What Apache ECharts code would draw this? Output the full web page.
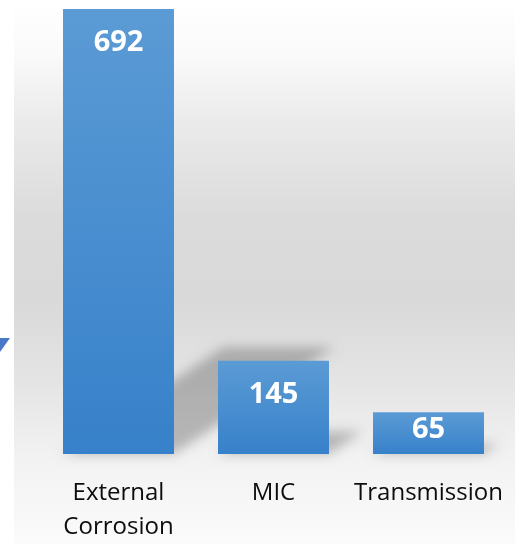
<!DOCTYPE html>
<html>
<head>
<meta charset="utf-8">
<script src="https://cdn.jsdelivr.net/npm/echarts@6/dist/echarts.min.js"></script>
<style>
  html, body { margin: 0; padding: 0; background: #ffffff; }
  #chart { width: 515px; height: 544px; }
</style>
</head>
<body>
<div id="chart"></div>
<script>
// Failure counts by cause
const categories = ['External\nCorrosion', 'MIC', 'Transmission'];
const counts = [692, 145, 65];

const FONT = '"Open Sans", "Noto Sans", sans-serif';
const BAR_RATIO = 0.716;   // bar width as a share of the category band
const SHADOW_SCALE = 0.24; // perspective shadow height relative to bar height
const SHADOW_SKEW = 1.5;   // horizontal shift per pixel of shadow height
const OFF = 3000;          // shadow shape is drawn off-canvas; only its blur is shown

const chart = echarts.init(document.getElementById('chart'), null, { renderer: 'canvas' });

// per-bar label placement: tall bars keep the value near the top, short ones sit snug
const barData = counts.map(function (v) {
  return {
    value: v,
    label: { distance: v > 100 ? 19 : 3 }
  };
});

chart.setOption({
  backgroundColor: '#ffffff',
  animation: false,
  grid: { left: 41, right: 9, top: 9, bottom: 87 },
  xAxis: {
    type: 'category',
    data: categories,
    axisLine: { show: false },
    axisTick: { show: false },
    axisLabel: {
      color: '#0d0d0d',
      fontFamily: FONT,
      fontSize: 24,
      lineHeight: 34,
      margin: 22,
      interval: 0
    }
  },
  yAxis: {
    type: 'value',
    min: 0,
    max: 692,
    show: false,
    splitLine: { show: false }
  },
  graphic: [
    {
      type: 'rect',
      z: -10,
      silent: true,
      shape: { x: 14, y: 0, width: 501, height: 544 },
      style: {
        fill: new echarts.graphic.LinearGradient(0, 0, 0, 1, [
          { offset: 0, color: '#ffffff' },
          { offset: 0.1, color: '#fafafa' },
          { offset: 0.22, color: '#ebebeb' },
          { offset: 0.4, color: '#dbdbdb' },
          { offset: 0.55, color: '#d9d9d9' },
          { offset: 0.7, color: '#e4e4e4' },
          { offset: 0.84, color: '#f2f2f2' },
          { offset: 1, color: '#fbfbfb' }
        ])
      }
    },
    {
      type: 'polygon',
      z: 10,
      silent: true,
      shape: { points: [[0, 338], [10, 338], [0, 352]] },
      style: { fill: '#4a78c8' }
    }
  ],
  series: [
    {
      // soft perspective shadow falling behind each bar
      type: 'custom',
      z: 1,
      silent: true,
      clip: false,
      data: counts.map(function (v, i) { return [i, v]; }),
      renderItem: function (params, api) {
        const idx = api.value(0);
        const val = api.value(1);
        const base = api.coord([idx, 0]);
        const top = api.coord([idx, val]);
        const bw = api.size([1, 0])[0] * BAR_RATIO;
        const x0 = base[0] - bw / 2;
        const x1 = base[0] + bw / 2;
        const yb = base[1];
        const hs = (yb - top[1]) * SHADOW_SCALE;
        const dx = hs * SHADOW_SKEW;
        return {
          type: 'polygon',
          shape: {
            points: [
              [x0 - OFF, yb],
              [x1 - OFF, yb],
              [x1 + dx - OFF, yb - hs],
              [x0 + dx - OFF, yb - hs]
            ]
          },
          style: {
            fill: '#000000',
            shadowColor: 'rgba(0,0,0,0.24)',
            shadowBlur: 12,
            shadowOffsetX: OFF,
            shadowOffsetY: 0
          }
        };
      }
    },
    {
      type: 'bar',
      z: 3,
      data: barData,
      barWidth: (BAR_RATIO * 100) + '%',
      itemStyle: {
        color: new echarts.graphic.LinearGradient(0, 0, 0, 1, [
          { offset: 0, color: '#5b9bd5' },
          { offset: 1, color: '#3781ca' }
        ])
      },
      label: {
        show: true,
        position: 'insideTop',
        color: '#ffffff',
        fontFamily: FONT,
        fontWeight: 'bold',
        fontSize: 29,
        lineHeight: 30
      }
    }
  ]
});
</script>
</body>
</html>
